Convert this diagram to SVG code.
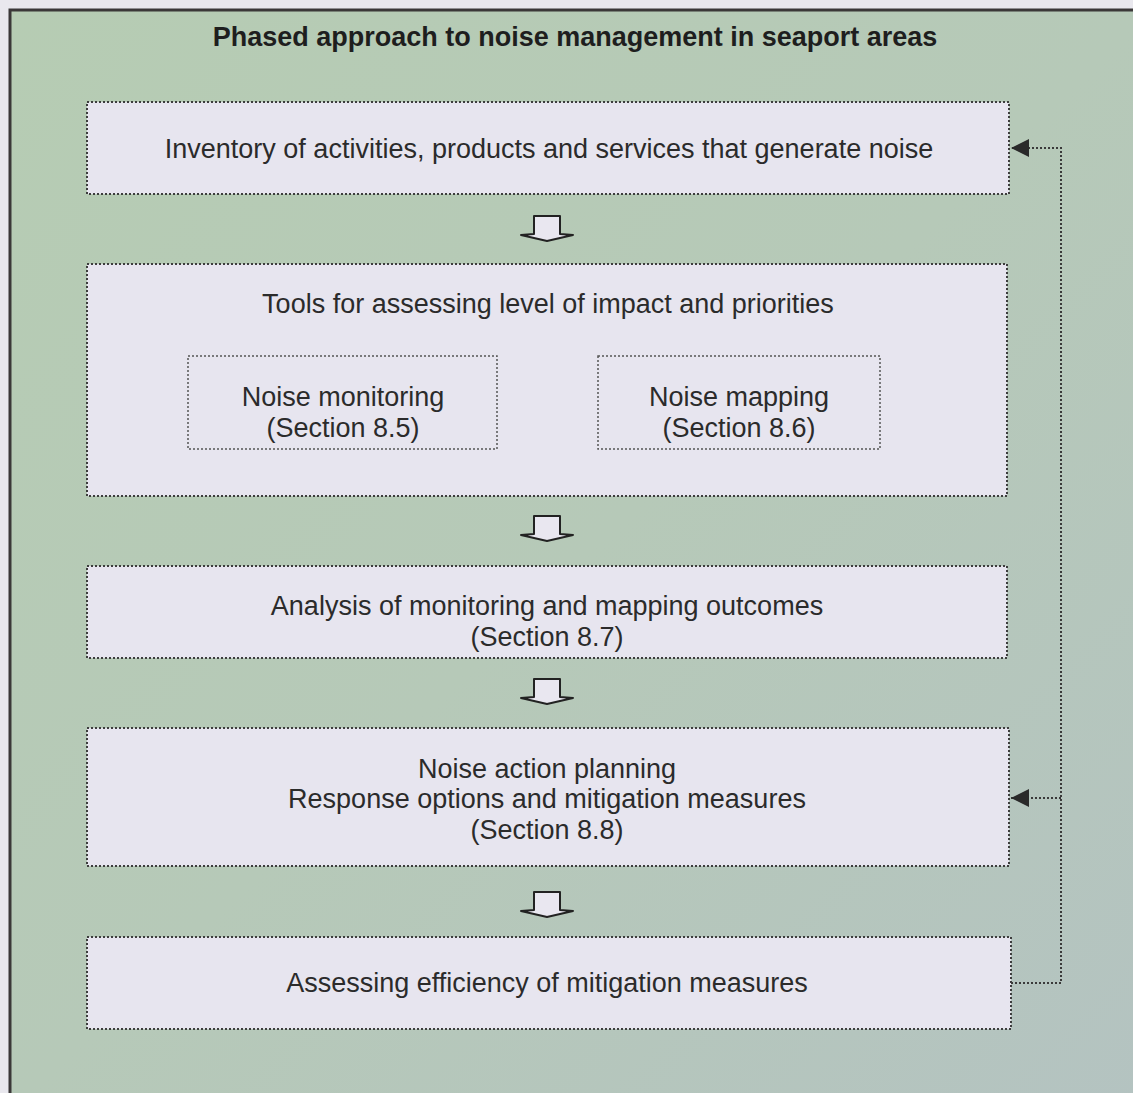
<svg xmlns="http://www.w3.org/2000/svg" width="1133" height="1093" viewBox="0 0 1133 1093">
  <defs>
    <linearGradient id="bg" x1="0" y1="0" x2="1" y2="1">
      <stop offset="0" stop-color="#b6ccb3"/>
      <stop offset="0.5" stop-color="#b6c9b8"/>
      <stop offset="1" stop-color="#b4c3c1"/>
    </linearGradient>
    <marker id="head" viewBox="0 0 10 10" refX="10" refY="5" markerWidth="18" markerHeight="18" markerUnits="userSpaceOnUse" orient="auto">
      <path d="M0,0 L10,5 L0,10 Z" fill="#2a2a2a"/>
    </marker>
    <path id="blockArrow" d="M-13,0 L13,0 L13,18 L26,19 L0,25 L-26,19 L-13,18 Z"/>
  </defs>
  <style>
    .box { fill: #e7e5ef; stroke: #3d3d3d; stroke-width: 2; stroke-dasharray: 2 2; }
    .inner { fill: #e7e5ef; stroke: #555; stroke-width: 1.5; stroke-dasharray: 2 2; }
    .txt { font-family: "Liberation Sans", Arial, sans-serif; font-size: 27px; fill: #2b2b2b; text-anchor: middle; }
    .title { font-family: "Liberation Sans", Arial, sans-serif; font-size: 27px; font-weight: bold; fill: #1e1e1e; text-anchor: middle; }
    .down { fill: #e9e7f0; stroke: #222; stroke-width: 2; stroke-linejoin: round; }
    .link { fill: none; stroke: #3a3a3a; stroke-width: 2; stroke-dasharray: 2 2; }
  </style>

  <!-- page and frame -->
  <rect x="0" y="0" width="1133" height="1093" fill="#e9e8ee"/>
  <rect x="10" y="10" width="1140" height="1100" fill="url(#bg)" stroke="#3b3838" stroke-width="3"/>
  <text class="title" x="575" y="46">Phased approach to noise management in seaport areas</text>

  <!-- connectors -->
  <g id="connectors">
    <use href="#blockArrow" class="down" x="547" y="216"/>
    <use href="#blockArrow" class="down" x="547" y="516"/>
    <use href="#blockArrow" class="down" x="547" y="679"/>
    <use href="#blockArrow" class="down" x="547" y="892"/>
    <path class="link" d="M1011,983 H1061 V148 H1011" marker-end="url(#head)"/>
    <path class="link" d="M1061,798 H1011" marker-end="url(#head)"/>
  </g>

  <g id="inventory">
    <rect class="box" x="87" y="102" width="922" height="92"/>
    <text class="txt" x="549" y="158">Inventory of activities, products and services that generate noise</text>
  </g>

  <g id="tools">
    <rect class="box" x="87" y="264" width="920" height="232"/>
    <text class="txt" x="548" y="313">Tools for assessing level of impact and priorities</text>
  </g>

  <g id="monitoring">
    <rect class="inner" x="188" y="356" width="309" height="93"/>
    <text class="txt" x="343" y="406">Noise monitoring</text>
    <text class="txt" x="343" y="437">(Section 8.5)</text>
  </g>

  <g id="mapping">
    <rect class="inner" x="598" y="356" width="282" height="93"/>
    <text class="txt" x="739" y="406">Noise mapping</text>
    <text class="txt" x="739" y="437">(Section 8.6)</text>
  </g>

  <g id="analysis">
    <rect class="box" x="87" y="566" width="920" height="92"/>
    <text class="txt" x="547" y="615">Analysis of monitoring and mapping outcomes</text>
    <text class="txt" x="547" y="646">(Section 8.7)</text>
  </g>

  <g id="planning">
    <rect class="box" x="87" y="728" width="922" height="138"/>
    <text class="txt" x="547" y="778">Noise action planning</text>
    <text class="txt" x="547" y="808">Response options and mitigation measures</text>
    <text class="txt" x="547" y="839">(Section 8.8)</text>
  </g>

  <g id="assessing">
    <rect class="box" x="87" y="937" width="924" height="92"/>
    <text class="txt" x="547" y="992">Assessing efficiency of mitigation measures</text>
  </g>
</svg>
